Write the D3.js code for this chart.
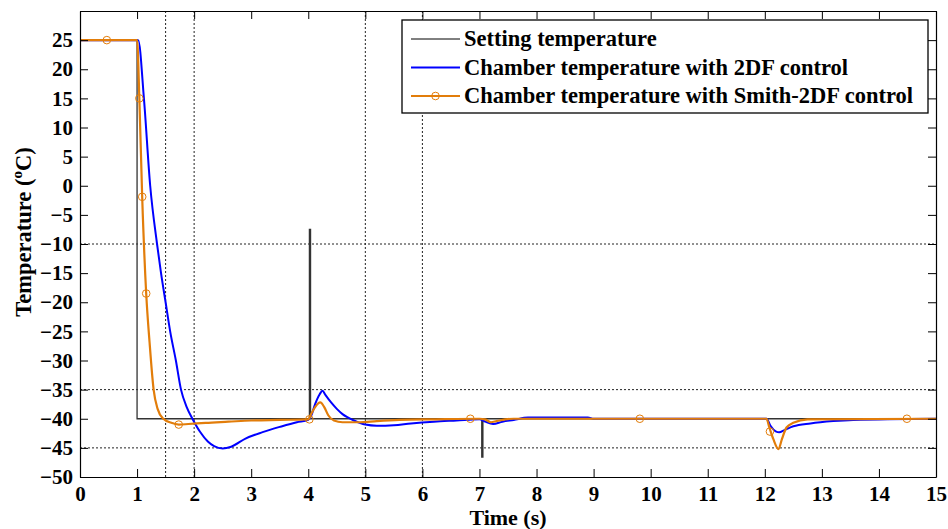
<!DOCTYPE html>
<html>
<head>
<meta charset="utf-8">
<script src="https://cdn.jsdelivr.net/npm/d3@7"></script>
<style>
  body { margin: 0; background: #fff; }
  svg text { font-family: "Liberation Serif", "Times New Roman", serif; font-weight: bold; fill: #000; }
</style>
</head>
<body>
<script>
var svg_width = 948;
var svg_height = 529;
var margin = {left: 80, top: 11, right: 12, bottom: 52};
var plot_width = svg_width - margin.left - margin.right;
var plot_height = svg_height - margin.top - margin.bottom;

// x ticks and y ticks
var xTicks = [0, 1, 2, 3, 4, 5, 6, 7, 8, 9, 10, 11, 12, 13, 14, 15];
var yTicks = [-50, -45, -40, -35, -30, -25, -20, -15, -10, -5, 0, 5, 10, 15, 20, 25];
var gridX = [1.5, 2, 5, 6];
var gridY = [-10, -35, -45];

var seriesNames = ['Setting temperature', 'Chamber temperature with 2DF control', 'Chamber temperature with Smith-2DF control'];

// setting temperature
var setT = [0, 1, 1, 4.02, 4.02, 4.04, 4.04, 7.04, 7.04, 7.06, 7.06, 15];
var setV = [25, 25, -40, -40, -7.5, -7.5, -40, -40, -46.6, -46.6, -40, -40];

// 2DF control
var dfT = [0, 1.02, 1.12, 1.23, 1.35, 1.42, 1.50, 1.58, 1.68, 1.77, 1.87, 1.97, 2.1, 2.24, 2.35, 2.5, 2.65, 2.9, 3.2, 3.5, 3.8, 4.0,
           4.05, 4.12, 4.2, 4.25, 4.3, 4.4, 4.5, 4.6, 4.7, 4.8, 4.9, 5.0, 5.2, 5.5, 5.8, 6.2, 6.6, 7.0, 7.1, 7.24, 7.4, 7.6, 7.85,
           8.9, 9.0, 12.03, 12.1, 12.2, 12.25, 12.35, 12.5, 12.8, 13.2, 13.55, 15];
var dfV = [25, 25, 15, 0, -10, -15, -20, -25, -30, -35, -38, -40, -42.2, -43.9, -44.7, -45.1, -44.8, -43.4, -42.3, -41.4, -40.6, -40.2,
           -39.5, -37.5, -35.8, -35.2, -35.9, -37.2, -38.3, -39.2, -39.8, -40.3, -40.7, -41.0, -41.2, -41.1, -40.8, -40.5, -40.3, -40.1, -40.5, -40.9, -40.5, -40.2, -39.8,
           -39.8, -40, -40, -41.2, -42.2, -42.3, -41.9, -41.3, -40.8, -40.4, -40.2, -40];

// Smith-2DF control
var smT = [0, 1.0, 1.04, 1.09, 1.16, 1.22, 1.29, 1.36, 1.46, 1.6, 1.73, 1.9, 2.2, 2.6, 3.0, 3.5, 4.0,
           4.05, 4.12, 4.21, 4.28, 4.35, 4.45, 4.6, 4.9, 5.2, 5.6, 6.2, 7.0, 7.1, 7.2, 7.3, 7.45, 7.6,
           12.03, 12.08, 12.15, 12.24, 12.3, 12.38, 12.5, 12.75, 15];
var smV = [25, 25, 15, -2, -18.5, -27, -35, -38.3, -40.0, -40.7, -41, -40.9, -40.7, -40.5, -40.3, -40.2, -40.1,
           -39.2, -38, -37.2, -38.0, -39.4, -40.3, -40.6, -40.6, -40.4, -40.2, -40.1, -40, -40.1, -40.6, -40.4, -40.1, -40,
           -40, -41.5, -43.5, -45.2, -43.5, -41.5, -40.7, -40.1, -40];
var smMarkT = [0.47, 1.04, 1.09, 1.16, 1.73, 4.02, 6.84, 9.81, 12.09, 14.49];
var smMarkV = [25, 15, -1.9, -18.5, -41, -40.1, -40, -40, -42.2, -40];

var blue = '#0000ff';
var orange = '#e27d0a';

var svg = d3.select('body').append('svg')
            .attr('width', svg_width)
            .attr('height', svg_height);

var xscale = d3.scaleLinear().domain([0, 15]).range([margin.left, margin.left + plot_width]);
var yscale = d3.scaleLinear().domain([-50, 30]).range([margin.top + plot_height, margin.top]);

// dotted grid
svg.selectAll('.gx').data(gridX).enter().append('line')
    .attr('x1', d => xscale(d)).attr('x2', d => xscale(d))
    .attr('y1', yscale(-50)).attr('y2', yscale(30))
    .attr('stroke', '#222').attr('stroke-width', 1).attr('stroke-dasharray', '2,2');
svg.selectAll('.gy').data(gridY).enter().append('line')
    .attr('x1', xscale(0)).attr('x2', xscale(15))
    .attr('y1', d => yscale(d)).attr('y2', d => yscale(d))
    .attr('stroke', '#222').attr('stroke-width', 1).attr('stroke-dasharray', '2,2');

var line = d3.line().x(d => xscale(d[0])).y(d => yscale(d[1]));
var smooth = d3.line().x(d => xscale(d[0])).y(d => yscale(d[1])).curve(d3.curveMonotoneX);

svg.append('path').datum(setT.map((t, i) => [t, setV[i]]))
    .attr('d', line).attr('fill', 'none').attr('stroke', '#333').attr('stroke-width', 1.3);
svg.append('path').datum(dfT.map((t, i) => [t, dfV[i]]))
    .attr('d', smooth).attr('fill', 'none').attr('stroke', blue).attr('stroke-width', 2);
svg.append('path').datum(smT.map((t, i) => [t, smV[i]]))
    .attr('d', smooth).attr('fill', 'none').attr('stroke', orange).attr('stroke-width', 2.2);
svg.selectAll('.mk').data(smMarkT.map((t, i) => [t, smMarkV[i]])).enter().append('circle')
    .attr('cx', d => xscale(d[0])).attr('cy', d => yscale(d[1])).attr('r', 3.8)
    .attr('fill', 'none').attr('stroke', orange).attr('stroke-width', 1);

// axes, MATLAB style box with inward ticks
var xaxis = d3.axisBottom(xscale).tickValues(xTicks).tickSizeInner(-8).tickSizeOuter(0).tickPadding(9);
var yaxis = d3.axisLeft(yscale).tickValues(yTicks).tickSizeInner(-8).tickSizeOuter(0).tickPadding(7);
var xtop = d3.axisTop(xscale).tickValues(xTicks).tickSizeInner(-8).tickSizeOuter(0).tickFormat('');
var yright = d3.axisRight(yscale).tickValues(yTicks).tickSizeInner(-8).tickSizeOuter(0).tickFormat('');

svg.append('g').attr('transform', 'translate(0,' + yscale(-50) + ')').call(xaxis);
svg.append('g').attr('transform', 'translate(' + xscale(0) + ',0)').call(yaxis);
svg.append('g').attr('transform', 'translate(0,' + yscale(30) + ')').call(xtop);
svg.append('g').attr('transform', 'translate(' + xscale(15) + ',0)').call(yright);

svg.selectAll('.domain').attr('stroke', '#000').attr('stroke-width', 1.2);
svg.selectAll('.tick line').attr('stroke', '#000');
svg.selectAll('.tick text').style('font-size', '21px');

// titles
svg.append('text').attr('x', xscale(7.5)).attr('y', 525)
    .attr('text-anchor', 'middle').style('font-size', '22px').text('Time (s)');
var yt = svg.append('text').attr('transform', 'translate(31,232) rotate(-90)')
    .attr('text-anchor', 'middle').style('font-size', '22.5px');
yt.append('tspan').text('Temperature (');
yt.append('tspan').attr('dy', -9).style('font-size', '15px').text('o');
yt.append('tspan').attr('dy', 9).text('C)');

// legend
var lg = svg.append('g').attr('transform', 'translate(402,20)');
lg.append('rect').attr('width', 526).attr('height', 93)
    .attr('fill', '#fff').attr('stroke', '#000').attr('stroke-width', 1.3);
var lgColors = ['#000', blue, orange];
var lgWidths = [1, 2, 2.2];
seriesNames.forEach(function(name, i) {
  var y = 19 + i * 28.5;
  lg.append('line').attr('x1', 9).attr('x2', 58).attr('y1', y).attr('y2', y)
      .attr('stroke', lgColors[i]).attr('stroke-width', lgWidths[i]);
  if (i === 2) {
    lg.append('circle').attr('cx', 33.5).attr('cy', y).attr('r', 3.8)
        .attr('fill', 'none').attr('stroke', orange).attr('stroke-width', 1);
  }
  lg.append('text').attr('x', 62).attr('y', y).attr('dy', '0.33em')
      .style('font-size', '22.5px').text(name);
});
</script>
</body>
</html>
